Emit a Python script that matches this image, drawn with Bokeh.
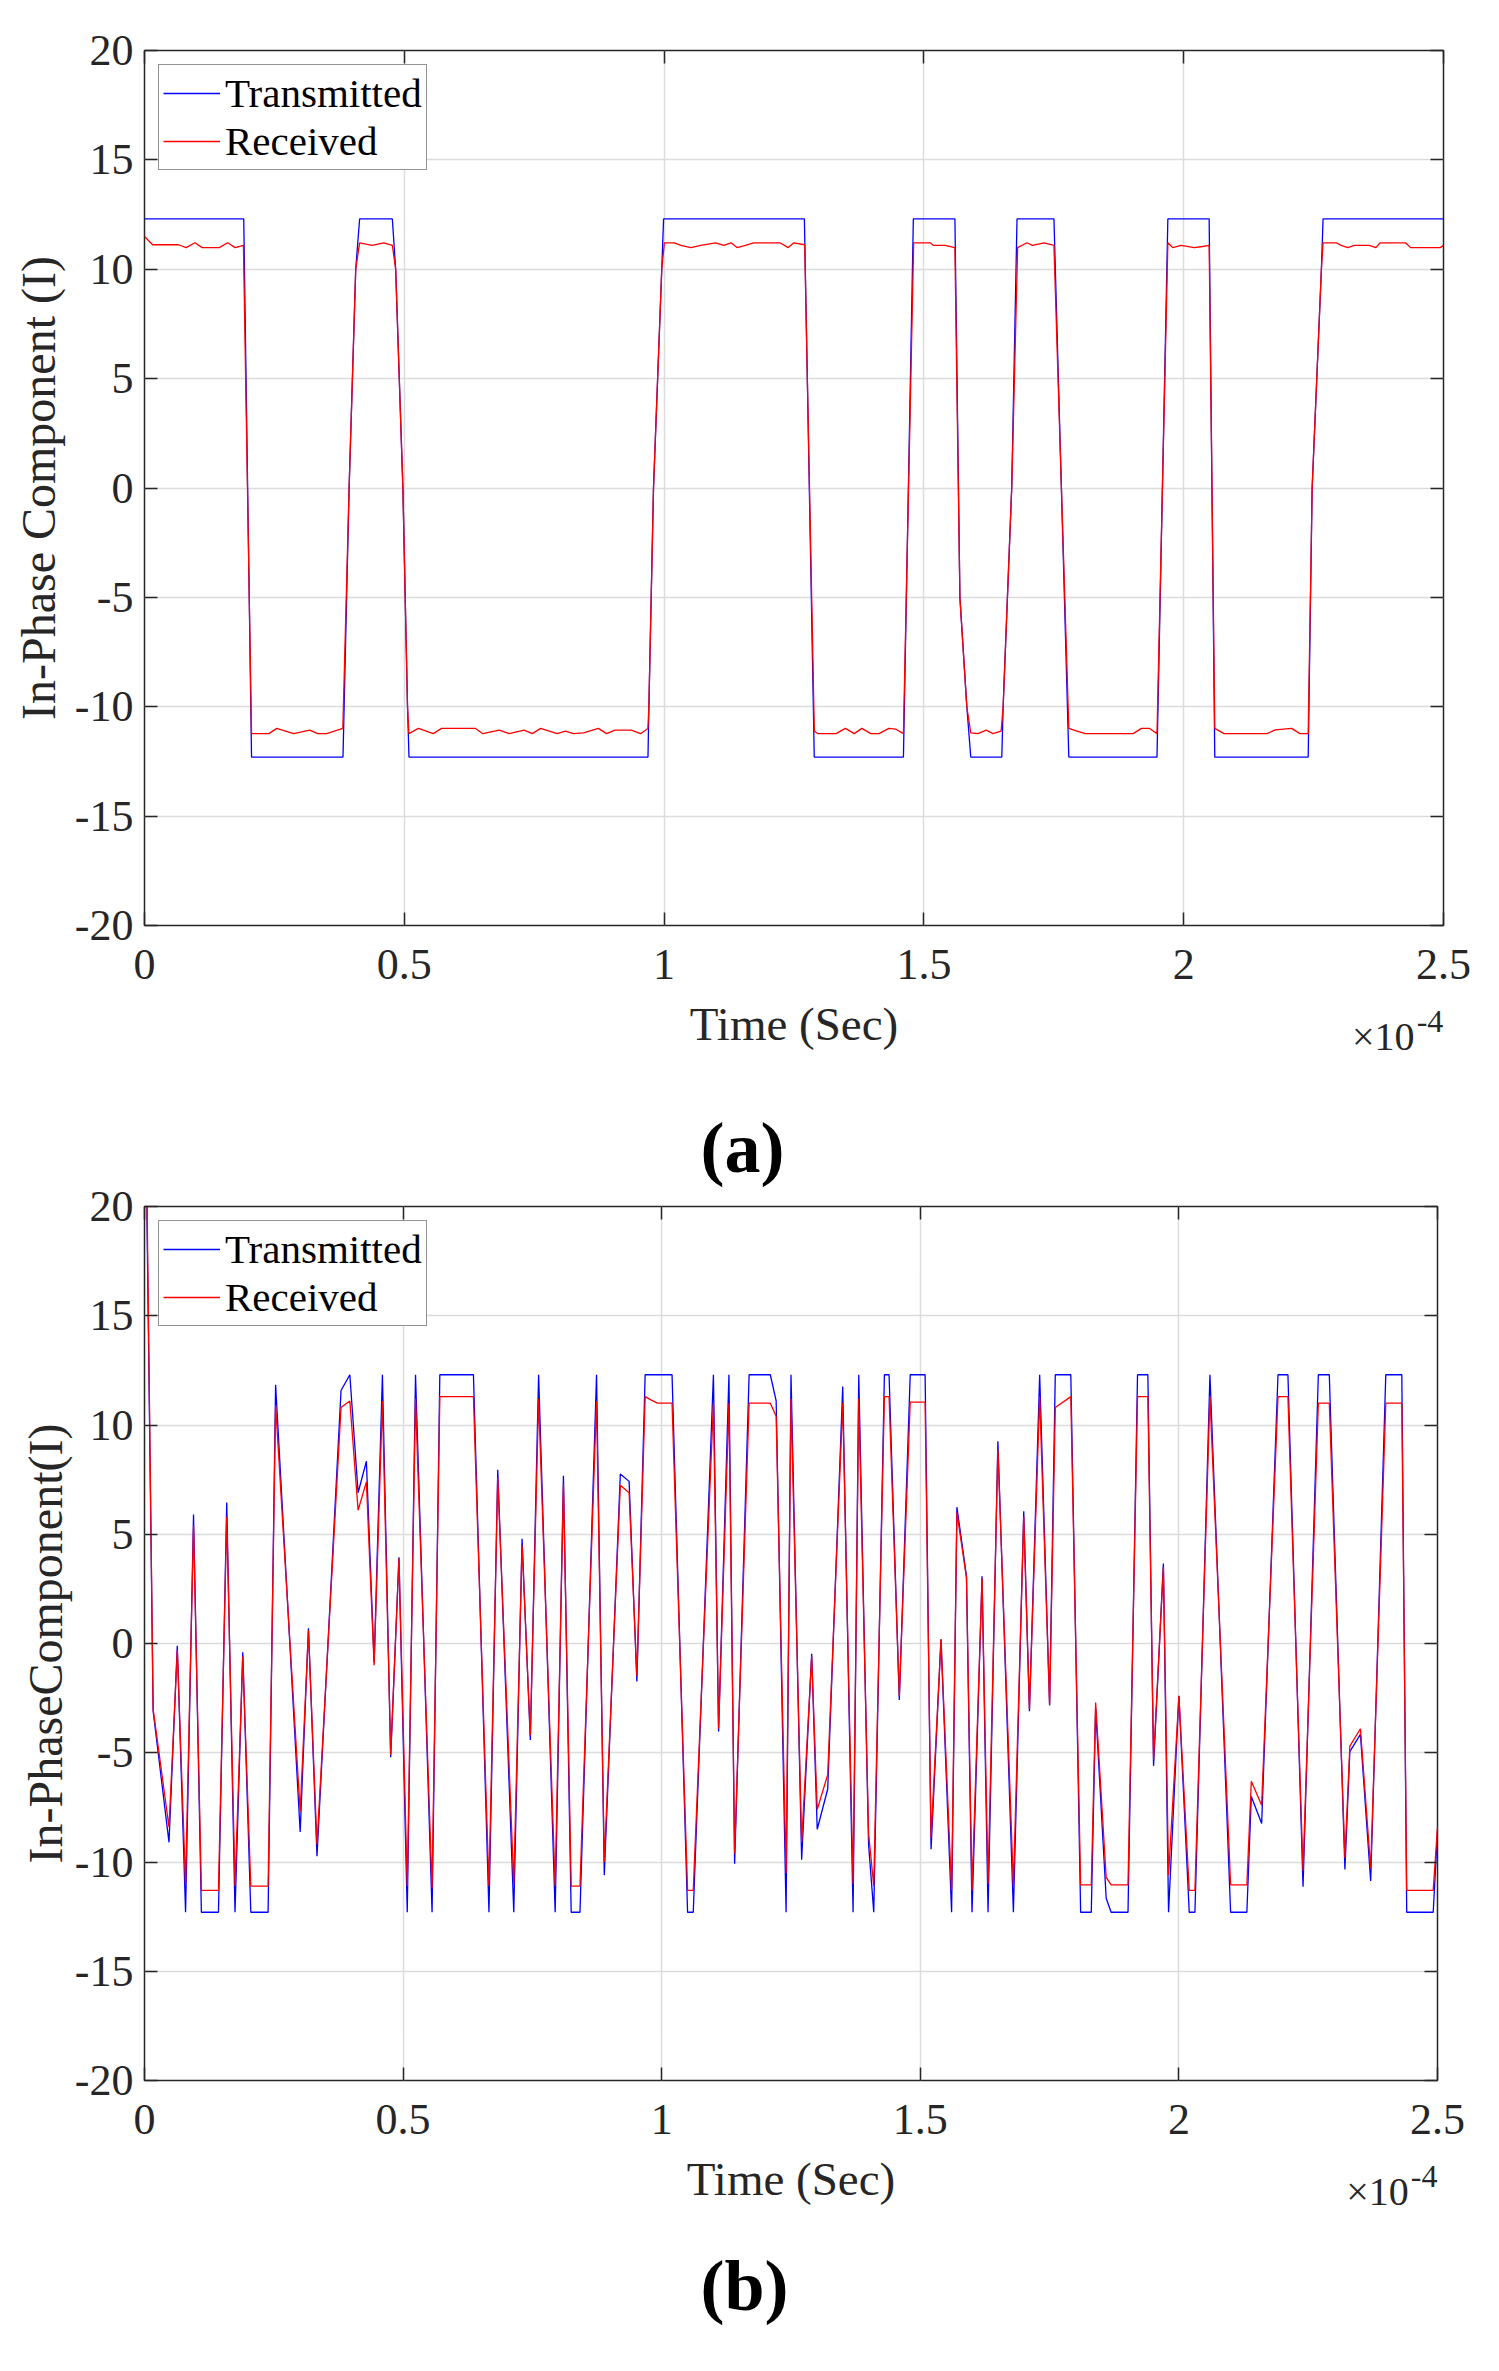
from bokeh.plotting import figure
from bokeh.models import Range1d, LinearAxis, FixedTicker, Legend, LegendItem, Title
from bokeh.layouts import column
from bokeh.embed import file_html
from bokeh.resources import INLINE

# ---------------- data (time in units of 1e-4 s) ----------------
x_ticks = [0, 0.5, 1, 1.5, 2, 2.5]
y_ticks = [-20, -15, -10, -5, 0, 5, 10, 15, 20]
y_tick_labels = ["-20", "-15", "-10", "-5", "0", "5", "10", "15", "20"]
x_label = "Time (Sec)"
x_mult = "\u00d710"
x_power = "-4"

# Panel (a) transmitted
ta_tx = [0.0, 0.191, 0.206, 0.382, 0.3938, 0.4065, 0.414, 0.477, 0.4834, 0.4973,
         0.5062, 0.509, 0.969, 0.9707, 0.9796, 0.9955, 0.999, 1.270, 1.289, 1.4606,
         1.4797, 1.5597, 1.5693, 1.5826, 1.5902, 1.6499, 1.6525, 1.669, 1.6792, 1.7503,
         1.7789, 1.9486, 1.9695, 2.049, 2.0598, 2.2396, 2.2472, 2.265, 2.2682, 2.5]
va_tx = [12.3, 12.3, -12.3, -12.3, 0.0, 10.0, 12.3, 12.3, 10.0, 0.0,
         -10.0, -12.3, -12.3, -10.0, 0.0, 10.0, 12.3, 12.3, -12.3, -12.3,
         12.3, 12.3, -5.0, -10.0, -12.3, -12.3, -10.0, 0.0, 12.3, 12.3,
         -12.3, -12.3, 12.3, 12.3, -12.3, -12.3, 0.0, 10.0, 12.3, 12.3]

# Panel (a) received
ta_rx = [0.0, 0.0157, 0.0653, 0.0805, 0.097, 0.111, 0.144, 0.16, 0.1746, 0.1904,
         0.206, 0.2394, 0.2546, 0.287, 0.318, 0.3334, 0.3506, 0.3817, 0.3938, 0.4065,
         0.414, 0.4382, 0.4605, 0.477, 0.4834, 0.4973, 0.5062, 0.5088, 0.5272, 0.5558,
         0.5717, 0.6371, 0.6511, 0.6829, 0.7019, 0.7305, 0.7464, 0.7623, 0.7941, 0.81,
         0.8258, 0.845, 0.8735, 0.8894, 0.9053, 0.937, 0.9548, 0.9688, 0.9707, 0.9796,
         0.9955, 1.0006, 1.0197, 1.0324, 1.0514, 1.0705, 1.0991, 1.115, 1.129, 1.1404,
         1.1563, 1.1721, 1.2230, 1.2389, 1.2497, 1.2706, 1.2891, 1.296, 1.331, 1.3488,
         1.366, 1.3806, 1.3977, 1.4136, 1.4327, 1.4454, 1.4606, 1.4803, 1.5121, 1.5185,
         1.5407, 1.5597, 1.5693, 1.5826, 1.5902, 1.6042, 1.6201, 1.6328, 1.6487, 1.6525,
         1.669, 1.6804, 1.6982, 1.709, 1.7313, 1.7503, 1.7789, 1.7948, 1.8107, 1.9028,
         1.9187, 1.9346, 1.9486, 1.9695, 1.979, 1.9949, 2.0204, 2.0363, 2.049, 2.0598,
         2.0776, 2.1602, 2.176, 2.2078, 2.2237, 2.2396, 2.2472, 2.265, 2.2682, 2.2936,
         2.3031, 2.3158, 2.3285, 2.3571, 2.3698, 2.3781, 2.427, 2.4366, 2.4938, 2.5]
va_rx = [11.5, 11.12, 11.12, 10.99, 11.21, 10.99, 10.99, 11.21, 10.99, 11.09,
         -11.23, -11.23, -10.99, -11.23, -11.07, -11.23, -11.23, -10.99, 0.0, 10.0,
         11.21, 11.09, 11.21, 11.09, 10.0, 0.0, -10.0, -11.23, -10.99, -11.23,
         -10.99, -10.99, -11.23, -11.07, -11.23, -11.07, -11.23, -10.99, -11.23, -11.11,
         -11.23, -11.19, -10.99, -11.23, -11.07, -11.07, -11.23, -10.99, -10.0, 0.0,
         10.0, 11.21, 11.21, 11.09, 10.99, 11.09, 11.21, 11.09, 11.21, 10.99,
         11.09, 11.21, 11.21, 10.99, 11.21, 11.12, -11.11, -11.23, -11.23, -10.99,
         -11.23, -10.99, -11.23, -11.23, -10.99, -11.02, -11.23, 11.21, 11.21, 11.09,
         11.09, 10.99, -5.0, -10.0, -11.19, -11.23, -11.07, -11.23, -11.11, -10.0,
         0.0, 10.99, 11.21, 11.09, 11.21, 11.09, -10.99, -11.11, -11.23, -11.23,
         -10.99, -10.99, -11.23, 11.21, 10.99, 11.09, 10.99, 11.04, 11.09, -10.99,
         -11.23, -11.23, -11.06, -10.99, -11.23, -11.23, 0.0, 10.0, 11.21, 11.21,
         11.09, 10.99, 11.09, 11.09, 10.99, 11.21, 11.21, 10.99, 10.99, 11.09]

# Panel (b) time vertices (shared by both series)
tb = [0.004, 0.0167, 0.0474, 0.0634, 0.0794, 0.0948, 0.110, 0.143, 0.159, 0.175,
      0.190, 0.2055, 0.239, 0.2535, 0.301, 0.317, 0.3335, 0.380, 0.397, 0.413,
      0.429, 0.444, 0.460, 0.476, 0.492, 0.508, 0.524, 0.556, 0.571, 0.636,
      0.666, 0.683, 0.714, 0.730, 0.746, 0.762, 0.794, 0.810, 0.825, 0.842,
      0.874, 0.889, 0.920, 0.937, 0.952, 0.968, 0.979, 0.992, 1.020, 1.050,
      1.061, 1.100, 1.110, 1.130, 1.141, 1.169, 1.210, 1.2213, 1.2405, 1.250,
      1.2706, 1.290, 1.3007, 1.321, 1.350, 1.370, 1.381, 1.400, 1.410, 1.4306,
      1.4396, 1.4594, 1.4805, 1.5093, 1.5208, 1.540, 1.5605, 1.5708, 1.5893, 1.600,
      1.6194, 1.631, 1.650, 1.680, 1.700, 1.711, 1.7308, 1.750, 1.761, 1.791,
      1.810, 1.8306, 1.839, 1.8594, 1.869, 1.9016, 1.920, 1.940, 1.951, 1.970,
      1.980, 2.000, 2.020, 2.031, 2.060, 2.100, 2.1314, 2.140, 2.160, 2.1916,
      2.2108, 2.240, 2.2696, 2.2908, 2.321, 2.3305, 2.351, 2.3708, 2.400, 2.431,
      2.4405, 2.4917, 2.500]
vb_tx = [21.0, -3.1, -9.1, -0.1, -12.3, 5.9, -12.3, -12.3, 6.45, -12.3,
         -0.4, -12.3, -12.3, 11.84, -8.63, 0.7, -9.74, 11.58, 12.3, 6.9,
         8.34, -0.87, 12.3, -5.2, 3.95, -12.3, 12.3, -12.3, 12.3, 12.3,
         -12.3, 7.95, -12.3, 4.79, -4.42, 12.3, -12.3, 7.68, -12.3, -12.3,
         12.3, -10.6, 7.76, 7.42, -1.74, 12.3, 12.3, 12.3, 12.3, -12.3,
         -12.3, 12.3, -4.03, 12.3, -10.08, 12.3, 12.3, 11.1, -12.3, 12.3,
         -9.9, -0.47, -8.5, -6.66, 11.76, -12.3, 12.3, -9.2, -12.3, 12.3,
         12.3, -2.58, 12.3, 12.3, -9.42, 0.18, -12.3, 6.24, 3.08, -12.3,
         3.08, -12.3, 9.26, -12.3, 6.05, -3.1, 12.3, -2.84, 12.3, 12.3,
         -12.3, -12.3, -2.97, -11.66, -12.3, -12.3, 12.3, 12.3, -5.6, 3.66,
         -12.3, -2.39, -12.3, -12.3, 12.3, -12.3, -12.3, -7.0, -8.24, 12.3,
         12.3, -11.13, 12.3, 12.3, -10.34, -4.95, -4.16, -10.87, 12.3, 12.3,
         -12.3, -12.3, -8.6]
vb_rx = [22.0, -3.0, -8.4, -0.3, -11.0, 5.4, -11.3, -11.3, 5.8, -11.1,
         -0.6, -11.1, -11.1, 10.9, -7.7, 0.6, -9.2, 10.8, 11.1, 6.1,
         7.4, -1.0, 11.1, -5.1, 3.9, -11.1, 11.2, -11.2, 11.3, 11.3,
         -11.1, 7.6, -11.0, 4.5, -4.2, 11.2, -11.1, 7.3, -11.1, -11.1,
         11.1, -10.0, 7.24, 6.9, -1.5, 11.3, 11.15, 11.0, 11.0, -11.3,
         -11.3, 11.0, -3.9, 11.0, -9.6, 11.0, 11.0, 10.4, -10.5, 11.2,
         -9.1, -0.6, -7.6, -6.0, 11.0, -11.0, 11.2, -8.7, -11.1, 11.3,
         11.3, -2.4, 11.05, 11.05, -8.9, 0.2, -11.3, 6.0, 3.0, -11.3,
         3.0, -11.0, 8.9, -11.1, 5.8, -3.0, 11.3, -2.8, 10.8, 11.3,
         -11.05, -11.05, -2.7, -10.7, -11.05, -11.05, 11.3, 11.3, -5.3, 3.5,
         -10.6, -2.4, -11.3, -11.3, 11.3, -11.05, -11.05, -6.3, -7.4, 11.3,
         11.3, -10.4, 11.0, 11.0, -9.8, -4.7, -3.9, -10.3, 11.0, 11.0,
         -11.3, -11.3, -8.4]

FONT = "Liberation Serif"
DARK = "#262626"


def bare_axis(ticks, labels, size, standoff):
    ax = LinearAxis(ticker=FixedTicker(ticks=ticks),
                    major_label_overrides=dict(zip(ticks, labels)))
    ax.axis_line_color = None
    ax.major_tick_line_color = None
    ax.minor_tick_line_color = None
    ax.major_label_text_font = FONT
    ax.major_label_text_color = DARK
    ax.major_label_text_font_size = size
    ax.major_label_standoff = standoff
    return ax


def caption_title(text, standoff):
    return Title(text=text, align="left", offset=556, standoff=standoff,
                 text_font=FONT, text_font_size="72px", text_font_style="bold",
                 text_color="black")


def make_panel(t1, v1, t2, v2, ylabel, fw, fh, bl, br, bt, bb, ylab_standoff):
    p = figure(frame_width=fw, frame_height=fh,
               x_range=Range1d(0, 2.5), y_range=Range1d(-20, 20),
               output_backend="svg", toolbar_location=None,
               min_border_left=bl, min_border_right=br,
               min_border_top=bt, min_border_bottom=bb)
    p.background_fill_color = "white"
    p.border_fill_color = "white"
    p.outline_line_color = DARK
    p.outline_line_width = 1.5

    p.xaxis.ticker = FixedTicker(ticks=x_ticks)
    p.yaxis.ticker = FixedTicker(ticks=y_ticks)
    p.yaxis.major_label_overrides = dict(zip(y_ticks, y_tick_labels))
    for ax in (p.xaxis[0], p.yaxis[0]):
        ax.axis_line_color = None
        ax.major_tick_in = 13
        ax.major_tick_out = 0
        ax.major_tick_line_color = DARK
        ax.major_tick_line_width = 1.5
        ax.minor_tick_line_color = None
        ax.major_label_text_font = FONT
        ax.major_label_text_font_size = "44px"
        ax.major_label_text_color = DARK
    p.xaxis.major_label_standoff = 24
    p.yaxis.major_label_standoff = 11
    p.yaxis.axis_label = ylabel
    p.yaxis.axis_label_text_font = FONT
    p.yaxis.axis_label_text_font_size = "48px"
    p.yaxis.axis_label_text_font_style = "normal"
    p.yaxis.axis_label_text_color = DARK
    p.yaxis.axis_label_standoff = ylab_standoff

    p.xgrid.ticker = FixedTicker(ticks=x_ticks)
    p.ygrid.ticker = FixedTicker(ticks=y_ticks)
    p.grid.grid_line_color = "#dcdcdc"
    p.grid.grid_line_width = 1.5

    # tick marks on right and top sides (box on)
    for loc, tk in (("right", y_ticks), ("above", x_ticks)):
        ax = LinearAxis(ticker=FixedTicker(ticks=tk))
        ax.axis_line_color = None
        ax.major_tick_in = 13
        ax.major_tick_out = 0
        ax.major_tick_line_color = DARK
        ax.major_tick_line_width = 1.5
        ax.minor_tick_line_color = None
        ax.major_label_text_font_size = "0px"
        ax.major_label_text_alpha = 0
        p.add_layout(ax, loc)

    # x axis title row, then the x10^-4 multiplier pulled up beside it
    p.add_layout(bare_axis([1.25], [x_label], "47px", 10), "below")
    p.add_layout(bare_axis([2.384], [x_mult], "40px", -45), "below")
    p.add_layout(bare_axis([2.474], [x_power], "32px", -57), "below")

    r1 = p.line(t1, v1, line_color="#0000ff", line_width=1.3)
    r2 = p.line(t2, v2, line_color="#ff0000", line_width=1.3)

    legend = Legend(items=[LegendItem(label="Transmitted", renderers=[r1]),
                           LegendItem(label="Received", renderers=[r2])],
                    location="top_left", margin=14, padding=4, spacing=0,
                    glyph_width=57, glyph_height=46, label_standoff=5,
                    label_text_font=FONT, label_text_font_size="41px",
                    label_text_color="black",
                    border_line_color=DARK, border_line_width=1.5,
                    background_fill_color="white", background_fill_alpha=1.0)
    p.add_layout(legend)
    return p


pa = make_panel(ta_tx, va_tx, ta_rx, va_rx, "In-Phase Component (I)",
                1299, 875, 144, 56, 50, 150, ylab_standoff=7)
pb = make_panel(tb, vb_tx, tb, vb_rx, "In-PhaseComponent(I)",
                1293, 874, 144, 62, 131, 285, ylab_standoff=0)

# sub-figure captions: "(a)" sits in the gap between the two panels
pb.add_layout(caption_title("(a)", 38), "above")
pb.add_layout(caption_title("(b)", 54), "below")

layout = column(pa, pb, spacing=0)
open("out.html", "w").write(file_html(layout, INLINE))
